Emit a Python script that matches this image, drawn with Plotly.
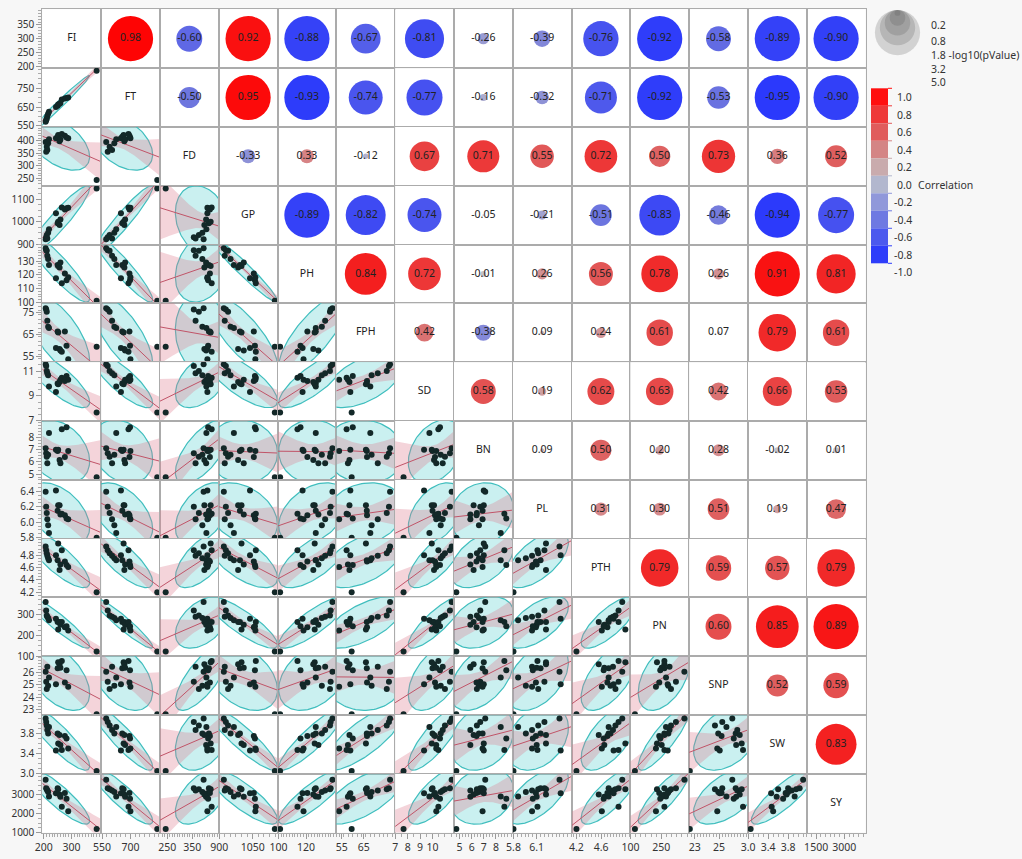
import math
import numpy as np
import plotly.graph_objects as go

# ---------------- data ----------------
VARS = ["FI", "FT", "FD", "GP", "PH", "FPH", "SD", "BN", "PL", "PTH", "PN", "SNP", "SW", "SY"]

FI  = [207, 209, 211, 213, 216, 219, 244, 250, 252, 257, 260, 265, 276, 282, 288, 390]
FT  = [572, 580, 590, 603, 615, 625, 650, 657, 664, 668, 672, 690, 695, 698, 700, 842]
FD  = [395, 356, 376, 363, 390, 406, 410, 416, 423, 398, 405, 427, 420, 413, 410, 244]
GP  = [921, 930, 940, 925, 951, 966, 1038, 993, 1000, 985, 1010, 1064, 1055, 1060, 1062, 1149]
PH  = [139.2, 137.9, 137.4, 133.9, 131.5, 127.1, 117.5, 127.1, 126.3, 125.3, 129.0, 113.8, 121.0, 116.0, 118.2, 101.2]
FPH = [77.0, 76.5, 75.5, 71.4, 68.6, 68.0, 58.9, 66.4, 66.0, 58.5, 57.8, 57.2, 66.5, 60.0, 53.8, 59.5]
SD  = [11.54, 11.40, 11.00, 10.82, 10.66, 9.75, 9.32, 10.00, 9.94, 10.12, 10.30, 10.47, 10.20, 10.60, 10.30, 7.67]
BN  = [7.12, 6.71, 6.43, 5.89, 6.60, 8.40, 7.00, 6.90, 7.00, 6.16, 5.89, 8.70, 6.40, 8.86, 6.90, 4.73]
PL  = [6.395, 6.20, 6.12, 6.04, 5.96, 5.86, 6.41, 6.15, 6.22, 6.22, 6.10, 6.11, 6.09, 6.05, 6.04, 5.80]
PTH = [4.94, 4.88, 4.83, 4.79, 4.75, 4.72, 4.80, 4.72, 4.99, 4.56, 4.65, 4.88, 4.70, 4.64, 4.61, 4.20]
PN  = [362, 321, 297, 290, 284, 273, 281, 265, 229, 265, 252, 265, 240, 245, 224, 122]
SNP = [26.08, 25.26, 24.66, 26.49, 24.93, 25.60, 25.05, 26.36, 26.85, 26.69, 26.40, 26.96, 25.20, 26.20, 24.85, 22.60]
SW  = [4.10, 4.03, 3.96, 3.87, 3.80, 3.93, 3.46, 3.80, 3.60, 3.77, 3.57, 3.47, 3.75, 3.70, 3.50, 3.05]
SY  = [3798, 3350, 3303, 3232, 3150, 2914, 3090, 3356, 3303, 3021, 2894, 2362, 3100, 2800, 2133, 1190]

# correlations shown in the upper triangle (row variable vs. the following columns)
R_FI  = [0.98, -0.60, 0.92, -0.88, -0.67, -0.81, -0.26, -0.39, -0.76, -0.92, -0.58, -0.89, -0.90]
R_FT  = [-0.50, 0.95, -0.93, -0.74, -0.77, -0.16, -0.32, -0.71, -0.92, -0.53, -0.95, -0.90]
R_FD  = [-0.33, 0.33, -0.12, 0.67, 0.71, 0.55, 0.72, 0.50, 0.73, 0.36, 0.52]
R_GP  = [-0.89, -0.82, -0.74, -0.05, -0.21, -0.51, -0.83, -0.46, -0.94, -0.77]
R_PH  = [0.84, 0.72, -0.01, 0.26, 0.56, 0.78, 0.26, 0.91, 0.81]
R_FPH = [0.42, -0.38, 0.09, 0.24, 0.61, 0.07, 0.79, 0.61]
R_SD  = [0.58, 0.19, 0.62, 0.63, 0.42, 0.66, 0.53]
R_BN  = [0.09, 0.50, 0.20, 0.28, -0.02, 0.01]
R_PL  = [0.31, 0.30, 0.51, 0.19, 0.47]
R_PTH = [0.79, 0.59, 0.57, 0.79]
R_PN  = [0.60, 0.85, 0.89]
R_SNP = [0.52, 0.59]
R_SW  = [0.83]

# axis tick labels
Y_TICKS = {"FI": [200, 250, 300, 350], "FT": [550, 650, 750], "FD": [250, 300, 350, 400],
           "GP": [900, 1000, 1100], "PH": [100, 110, 120, 130], "FPH": [55, 65, 75],
           "SD": [7, 9, 11], "BN": [5, 6, 7, 8], "PL": [5.8, 6.0, 6.2, 6.4],
           "PTH": [4.2, 4.4, 4.6, 4.8], "PN": [100, 200, 300], "SNP": [23, 24, 25, 26],
           "SW": [3.0, 3.4, 3.8], "SY": [1000, 2000, 3000]}
X_TICKS = {"FI": [200, 300], "FT": [550, 700], "FD": [250, 350], "GP": [900, 1050],
           "PH": [100, 120], "FPH": [55, 65], "SD": [7, 8, 9, 10], "BN": [5, 6, 7, 8],
           "PL": [5.8, 6.1], "PTH": [4.2, 4.6], "PN": [100, 250], "SNP": [23, 25],
           "SW": [3.0, 3.4, 3.8], "SY": [1500, 3000]}
TICK_FMT = {"PL": "{:.1f}", "PTH": "{:.1f}", "SW": "{:.1f}"}

LEGEND_P = [5.0, 3.2, 1.8, 0.8, 0.2]
LEGEND_R = [1.0, 0.8, 0.6, 0.4, 0.2, 0.0, -0.2, -0.4, -0.6, -0.8, -1.0]

# ---------------- styling / geometry ----------------
AX_RANGE = {"FI": [195, 406], "FT": [545, 856], "FD": [221, 455], "GP": [898, 1161],
            "PH": [99.3, 142], "FPH": [52.5, 79.3], "SD": [6.99, 11.72], "BN": [4.53, 9.39],
            "PL": [5.79, 6.55], "PTH": [4.12, 5.07], "PN": [99.5, 385], "SNP": [22.54, 27.36],
            "SW": [2.995, 4.171], "SY": [998, 4126]}
MINOR = {"FI": 10, "FT": 25, "FD": 10, "GP": 25, "PH": 2, "FPH": 2, "SD": 0.5, "BN": 0.25,
         "PL": 0.05, "PTH": 0.05, "PN": 25, "SNP": 0.25, "SW": 0.1, "SY": 250}

W, H = 1022, 859
X0, Y0, CELL = 42.3, 9.3, 58.8
FONT = "Noto Sans, DejaVu Sans, Arial"
LINE_C = "#ABABAB"
TICK_FS = 10

DATA = dict(zip(VARS, [FI, FT, FD, GP, PH, FPH, SD, BN, PL, PTH, PN, SNP, SW, SY]))
RROWS = [R_FI, R_FT, R_FD, R_GP, R_PH, R_FPH, R_SD, R_BN, R_PL, R_PTH, R_PN, R_SNP, R_SW]
N = len(FI)


def px(x):
    return x / W


def py(y):
    return 1 - y / H


def neglog10p(r, n):
    df = n - 2
    t = abs(r) * math.sqrt(df / max(1e-12, 1 - r * r))
    s = t + np.expm1(np.linspace(0, math.log(5001), 40001))
    c = math.gamma((df + 1) / 2) / (math.sqrt(df * math.pi) * math.gamma(df / 2))
    f = c * (1 + s * s / df) ** (-(df + 1) / 2)
    p = 2 * np.trapezoid(f, s)
    return -math.log10(max(p, 1e-300))


def bubble_d(v):
    return max(0.0, 22 * math.sqrt(min(v, 5.0)) - 4)


STOPS = [(-1.0, (35, 50, 255)), (-0.5, (110, 118, 222)), (0.0, (200, 196, 200)),
         (0.5, (222, 98, 98)), (1.0, (255, 0, 0))]


def rcolor(r):
    for (a, ca), (b, cb) in zip(STOPS[:-1], STOPS[1:]):
        if a <= r <= b:
            f = (r - a) / (b - a)
            c = [round(ca[k] + f * (cb[k] - ca[k])) for k in range(3)]
            return f"rgb({c[0]},{c[1]},{c[2]})"
    return "rgb(200,200,200)"


def fmt(var, v):
    return TICK_FMT.get(var, "{:g}").format(v)


fig = go.Figure()
layout = dict(width=W, height=H, margin=dict(l=0, r=0, t=0, b=0, autoexpand=False),
              paper_bgcolor="#F7F7F7", plot_bgcolor="white", showlegend=False,
              font=dict(family=FONT, size=11, color="#333"))
annotations = []
shapes = []

CHI = math.sqrt(5.991)
TCRIT = 2.145

for i, vy in enumerate(VARS):
    for j, vx in enumerate(VARS):
        k = i * 14 + j + 1
        xn, yn = ("x", "y") if k == 1 else (f"x{k}", f"y{k}")
        xl, yl = ("xaxis", "yaxis") if k == 1 else (f"xaxis{k}", f"yaxis{k}")
        left = X0 + CELL * j
        top = Y0 + CELL * i
        xr = AX_RANGE[vx] if i >= j else [0, 1]
        yr = AX_RANGE[vy] if i >= j else [0, 1]
        xa = dict(domain=[px(left), px(left + CELL)], range=xr, anchor=yn, showgrid=False,
                  zeroline=False, showline=True, mirror=True, linecolor=LINE_C, linewidth=1,
                  fixedrange=True, showticklabels=False, ticks="", automargin=False)
        ya = dict(domain=[py(top + CELL), py(top)], range=yr, anchor=xn, showgrid=False,
                  zeroline=False, showline=True, mirror=True, linecolor=LINE_C, linewidth=1,
                  fixedrange=True, showticklabels=False, ticks="", automargin=False)
        if i == 13:
            xa.update(showticklabels=True, ticks="outside", ticklen=5, tickcolor="#999",
                      tickmode="array", tickvals=X_TICKS[vx],
                      ticktext=[fmt(vx, v) for v in X_TICKS[vx]],
                      tickfont=dict(size=TICK_FS + 0.5, color="#333"),
                      minor=dict(ticks="outside", ticklen=3, tickcolor="#aaa",
                                 tickmode="linear", tick0=0, dtick=MINOR[vx]))
        if j == 0:
            ya.update(showticklabels=True, ticks="outside", ticklen=5, tickcolor="#999",
                      tickmode="array", tickvals=Y_TICKS[vy],
                      ticktext=[fmt(vy, v) for v in Y_TICKS[vy]],
                      tickfont=dict(size=TICK_FS, color="#333"),
                      minor=dict(ticks="outside", ticklen=3, tickcolor="#aaa",
                                 tickmode="linear", tick0=0, dtick=MINOR[vy]))
        layout[xl] = xa
        layout[yl] = ya

        if i == j:
            fig.add_trace(go.Scatter(x=[sum(xr) / 2], y=[sum(yr) / 2], xaxis=xn, yaxis=yn,
                                     mode="text", text=[vy], textposition="middle center",
                                     textfont=dict(size=10.5, color="#222"),
                                     hoverinfo="skip", cliponaxis=False))
        elif i < j:
            r = RROWS[i][j - i - 1]
            d = bubble_d(neglog10p(r, N))
            fig.add_trace(go.Scatter(x=[0.5], y=[0.5], xaxis=xn, yaxis=yn, mode="markers+text",
                                     marker=dict(size=d, color=rcolor(r), line=dict(width=0)),
                                     text=[f"{r:.2f}"], textposition="middle center",
                                     textfont=dict(size=10.5, color="#222"),
                                     hoverinfo="skip", cliponaxis=False))
        else:
            x = np.array(DATA[vx], float)
            y = np.array(DATA[vy], float)
            mx, my = x.mean(), y.mean()
            cov = np.cov(x, y)
            L = np.linalg.cholesky(cov)
            th = np.linspace(0, 2 * np.pi, 121)
            e = np.array([mx, my])[:, None] + CHI * L @ np.vstack([np.cos(th), np.sin(th)])
            fig.add_trace(go.Scatter(x=e[0], y=e[1], xaxis=xn, yaxis=yn, mode="lines",
                                     fill="toself", fillcolor="rgba(95,208,208,0.33)",
                                     line=dict(color="rgb(64,190,190)", width=1.2),
                                     hoverinfo="skip"))
            b1, b0 = np.polyfit(x, y, 1)
            res = y - (b0 + b1 * x)
            s = math.sqrt((res ** 2).sum() / (N - 2))
            sxx = ((x - mx) ** 2).sum()
            gx = np.linspace(xr[0], xr[1], 60)
            gy = b0 + b1 * gx
            hw = TCRIT * s * np.sqrt(1 / N + (gx - mx) ** 2 / sxx)
            fig.add_trace(go.Scatter(x=np.concatenate([gx, gx[::-1]]),
                                     y=np.concatenate([gy + hw, (gy - hw)[::-1]]),
                                     xaxis=xn, yaxis=yn, mode="lines", fill="toself",
                                     fillcolor="rgba(222,120,140,0.32)", line=dict(width=0),
                                     hoverinfo="skip"))
            fig.add_trace(go.Scatter(x=gx, y=gy, xaxis=xn, yaxis=yn, mode="lines",
                                     line=dict(color="rgb(192,84,104)", width=1),
                                     hoverinfo="skip"))
            fig.add_trace(go.Scatter(x=x, y=y, xaxis=xn, yaxis=yn, mode="markers",
                                     marker=dict(size=6, color="#132828"), hoverinfo="skip"))

# ---------------- legends ----------------
cx, ctop = 897.5, 10.0
for v in LEGEND_P:
    d = bubble_d(v)
    shapes.append(dict(type="circle", xref="paper", yref="paper", x0=px(cx - d / 2),
                       x1=px(cx + d / 2), y0=py(ctop + d), y1=py(ctop),
                       fillcolor="rgba(80,80,80,0.22)", line=dict(width=0)))
for v, yy in zip(sorted(LEGEND_P), [16, 31.5, 46.5, 60, 73.5]):
    t = f"{v:.1f}" + (" -log10(pValue)" if v == 1.8 else "")
    annotations.append(dict(x=px(929), y=py(yy), xref="paper", yref="paper", text=t,
                            showarrow=False, xanchor="left",
                            font=dict(size=10.5, color="#333")))

BAND_COLORS = ["#FF0F0F", "#EE3838", "#E05C5C", "#D48585", "#C9ABAD",
               "#B2B7CE", "#9098DA", "#6E79E2", "#4B59EE", "#2E3DFA"]
bt, bb = 88.3, 263.3
step = (bb - bt) / 10
for q, col in enumerate(BAND_COLORS):
    shapes.append(dict(type="rect", xref="paper", yref="paper", x0=px(871), x1=px(888),
                       y0=py(bt + step * (q + 1)), y1=py(bt + step * q), fillcolor=col,
                       line=dict(width=0)))
for q, v in enumerate(LEGEND_R):
    yy = bt + step * q
    col = BAND_COLORS[min(q, 9)]
    shapes.append(dict(type="line", xref="paper", yref="paper", x0=px(888), x1=px(892),
                       y0=py(yy), y1=py(yy), line=dict(color=col, width=1)))
    annotations.append(dict(x=px(913.5), y=py(yy), xref="paper", yref="paper",
                            text=f"{v:.1f}", showarrow=False, xanchor="right",
                            font=dict(size=10.5, color="#333")))
annotations.append(dict(x=px(915.5), y=py(bt + step * 5), xref="paper", yref="paper",
                        text="Correlation", showarrow=False, xanchor="left",
                        font=dict(size=10.5, color="#333")))

layout["annotations"] = annotations
layout["shapes"] = shapes
fig.update_layout(**layout)

fig.write_html("out.html", config={"displayModeBar": False},
               post_script="document.body.style.margin='0';document.body.style.overflow='hidden';")
